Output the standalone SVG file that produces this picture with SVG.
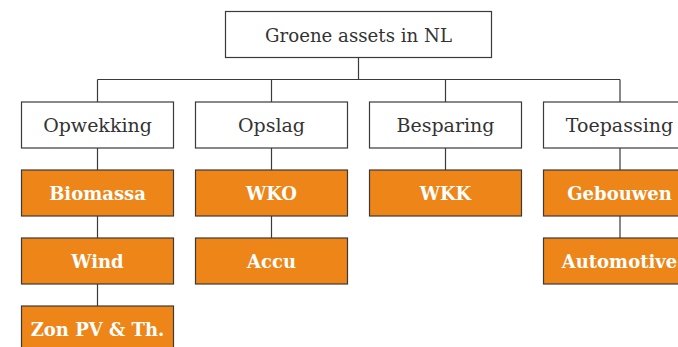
<svg xmlns="http://www.w3.org/2000/svg" width="678" height="347" viewBox="0 0 678 347">
<style>
.w{fill:#fff;stroke:#3a3a3a;stroke-width:1.2}
.o{fill:#ee8518;stroke:#3a3a3a;stroke-width:1.2}
.tl{font-family:"DejaVu Serif","Liberation Serif",serif;font-size:19px;fill:#333;text-anchor:middle;dominant-baseline:central;font-weight:300}
.tb{font-family:"DejaVu Serif","Liberation Serif",serif;font-size:18px;fill:#fff;text-anchor:middle;dominant-baseline:central;font-weight:bold}
.c{stroke:#3a3a3a;stroke-width:1.2;fill:none}
</style>
<g id="connectors">
<path class="c" d="M358.5 57V79.5M97.5 79.5H620M97.5 79.5V102M271.5 79.5V102M445.5 79.5V102M620 79.5V102"/>
<path class="c" d="M97.5 148V170M97.5 216V238M97.5 284V306M271.5 148V170M271.5 216V238M445.5 148V170M620 148V170M620 216V238"/>
</g>
<g id="root"><rect class="w" x="225.5" y="11.5" width="266" height="46"/><text class="tl" x="358.5" y="34.5" textLength="187" lengthAdjust="spacingAndGlyphs">Groene assets in NL</text></g>
<g id="opwekking"><rect class="w" x="21.5" y="102" width="152" height="46"/><text class="tl" x="97.5" y="125">Opwekking</text></g>
<g id="opslag"><rect class="w" x="195.5" y="102" width="152" height="46"/><text class="tl" x="271.5" y="125">Opslag</text></g>
<g id="besparing"><rect class="w" x="369.5" y="102" width="152" height="46"/><text class="tl" x="445.5" y="125">Besparing</text></g>
<g id="toepassing"><rect class="w" x="543.5" y="102" width="152" height="46"/><text class="tl" x="619.5" y="125">Toepassing</text></g>
<g id="biomassa"><rect class="o" x="21.5" y="170" width="152" height="46"/><text class="tb" x="97.5" y="193">Biomassa</text></g>
<g id="wind"><rect class="o" x="21.5" y="238" width="152" height="46"/><text class="tb" x="97.5" y="261">Wind</text></g>
<g id="zon"><rect class="o" x="21.5" y="306" width="152" height="46"/><text class="tb" x="97.5" y="329">Zon PV &amp; Th.</text></g>
<g id="wko"><rect class="o" x="195.5" y="170" width="152" height="46"/><text class="tb" x="271.5" y="193">WKO</text></g>
<g id="accu"><rect class="o" x="195.5" y="238" width="152" height="46"/><text class="tb" x="271.5" y="261">Accu</text></g>
<g id="wkk"><rect class="o" x="369.5" y="170" width="152" height="46"/><text class="tb" x="445.5" y="193">WKK</text></g>
<g id="gebouwen"><rect class="o" x="543.5" y="170" width="152" height="46"/><text class="tb" x="619.5" y="193">Gebouwen</text></g>
<g id="automotive"><rect class="o" x="543.5" y="238" width="152" height="46"/><text class="tb" x="619.5" y="261">Automotive</text></g>
</svg>
